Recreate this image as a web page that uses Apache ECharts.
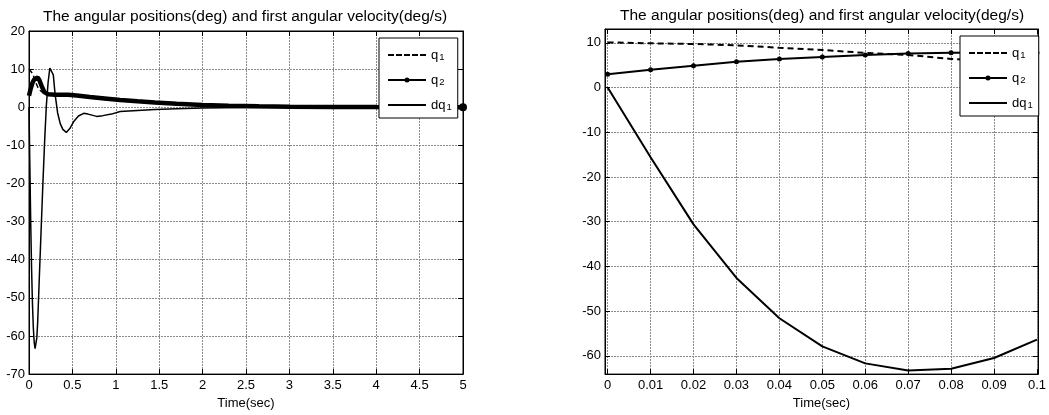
<!DOCTYPE html>
<html>
<head>
<meta charset="utf-8">
<script src="https://cdn.jsdelivr.net/npm/echarts@6/dist/echarts.min.js"></script>
<style>
  html, body { margin: 0; padding: 0; background: #fff; }
  #chart { width: 1049px; height: 415px; }
</style>
</head>
<body>
<div id="chart"></div>
<script>
// left panel: whole 5 s run, [time, value]
const q1Left = [[0, 10], [0.02, 9.75], [0.04, 8.9], [0.06, 7.75], [0.08, 6.4], [0.1, 5.3], [0.13, 4.4],
  [0.16, 3.8], [0.2, 3.3], [0.3, 3.1], [0.45, 3.05], [0.6, 2.7], [0.8, 2.2], [1.0, 1.8], [1.3, 1.3],
  [1.6, 0.9], [2.0, 0.5], [2.5, 0.25], [3.0, 0.1], [4.0, 0.02], [5, 0]];
const q2Left = [[0, 3], [0.02, 4.9], [0.04, 6.4], [0.06, 7.3], [0.08, 7.8], [0.1, 7.8], [0.12, 7.1],
  [0.15, 5.3], [0.18, 3.9], [0.22, 3.4], [0.3, 3.3], [0.45, 3.3], [0.55, 3.1], [0.7, 2.7], [0.9, 2.25],
  [1.05, 1.9], [1.25, 1.55], [1.45, 1.25], [1.7, 0.9], [2.0, 0.6], [2.3, 0.4], [2.65, 0.25], [3.0, 0.15],
  [3.5, 0.08], [4.0, 0.04], [4.5, 0.02], [5, 0]];
const dq1Left = [[0, 0], [0.01, -15.6], [0.02, -30.6], [0.03, -42.6], [0.04, -51.6], [0.05, -57.9],
  [0.06, -61.7], [0.07, -63.3], [0.08, -62.9], [0.09, -60.5], [0.1, -56.4], [0.12, -44], [0.14, -32],
  [0.16, -20], [0.18, -9], [0.2, 0.5], [0.22, 6.5], [0.24, 10.3], [0.26, 10.8], [0.28, 8.5], [0.3, 3.5],
  [0.33, -1.5], [0.36, -4.3], [0.39, -5.8], [0.43, -6.6], [0.47, -5.6], [0.52, -3.6], [0.57, -2.3],
  [0.63, -1.6], [0.68, -1.8], [0.78, -2.4], [0.85, -2.2], [0.95, -1.8], [1.05, -1.1], [1.2, -0.9],
  [1.45, -0.6], [1.7, -0.4], [2.0, -0.2], [2.5, -0.05], [3.0, 0], [5, 0]];

// right panel: first 0.1 s, one sample every 0.01 s
const timeRight = [0, 0.01, 0.02, 0.03, 0.04, 0.05, 0.06, 0.07, 0.08, 0.09, 0.1];
const q1Right = [10.1, 9.9, 9.75, 9.45, 8.9, 8.4, 7.75, 7.3, 6.4, 5.9, 5.3];
const q2Right = [3.0, 4.0, 4.9, 5.75, 6.4, 6.85, 7.3, 7.6, 7.8, 7.85, 7.8];
const dq1Right = [0, -15.6, -30.6, -42.6, -51.6, -57.9, -61.7, -63.3, -62.9, -60.5, -56.4];

const seriesNames = ['q1', 'q2', 'dq1'];
const titleText = 'The angular positions(deg) and first angular velocity(deg/s)';
const font = 'Liberation Sans, Arial, Helvetica, sans-serif';

const pairs = (xs, ys) => xs.map((x, i) => [x, ys[i]]);

const chart = echarts.init(document.getElementById('chart'));

const gridLine = { show: true, lineStyle: { color: '#8a8a8a', type: [2, 1], width: 1 } };
const tickIn = { show: true, inside: true, length: 5, lineStyle: { color: '#000' } };
const label = { color: '#000', fontSize: 13, fontFamily: font };
const axisLine = { show: true, onZero: false, lineStyle: { color: '#000', width: 1 } };

function xAx(grid, range, pos, main) {
  return Object.assign({
    type: 'value', gridIndex: grid, position: pos,
    axisLine: axisLine, axisTick: tickIn,
    splitLine: main ? gridLine : { show: false },
    axisLabel: main ? Object.assign({ margin: 5, showMinLabel: !range.hideEnds,
      showMaxLabel: !range.hideEnds }, label) : { show: false },
    name: main ? 'Time(sec)' : '', nameLocation: 'middle', nameGap: 21,
    nameTextStyle: label
  }, range.opt);
}

function yAx(grid, range, pos, main) {
  return Object.assign({
    type: 'value', gridIndex: grid, position: pos,
    axisLine: axisLine, axisTick: tickIn,
    splitLine: main ? gridLine : { show: false },
    axisLabel: main ? Object.assign({ margin: 4, showMinLabel: !range.hideEnds,
      showMaxLabel: !range.hideEnds }, label) : { show: false }
  }, range.opt);
}

const xLeft = { opt: { min: 0, max: 5, interval: 0.5 } };
const yLeft = { opt: { min: -70, max: 20, interval: 10 } };
const xRight = { hideEnds: true, opt: { min: -0.00062, max: 0.10023, splitNumber: 10 } };
const yRight = { hideEnds: true, opt: { min: -64.1, max: 13.1, splitNumber: 8 } };

// legend samples drawn as paths in a 38 wide box
const icons = {
  q1: 'path://M0,6h6v2h-6z M8,6h6v2h-6z M16,6h6v2h-6z M24,6h6v2h-6z M32,6h6v2h-6z',
  q2: 'path://M0,6h38v2h-38z M16.5,7a2.5,2.5 0 1,1 5,0a2.5,2.5 0 1,1 -5,0z',
  dq1: 'path://M0,6h38v2h-38z'
};

const legendRich = {
  b: { fontSize: 13, fontFamily: font, color: '#000', lineHeight: 14 },
  s: { fontSize: 9.5, fontFamily: font, color: '#000', verticalAlign: 'bottom', lineHeight: 14, padding: [8, 0, 0, 1] }
};
function legendAt(left, top) {
  return {
    orient: 'vertical', left: left, top: top,
    padding: [6, 6, 6, 9], itemWidth: 38, itemHeight: 14, itemGap: 7,
    backgroundColor: '#fff', borderColor: '#000', borderWidth: 1, borderRadius: 0,
    data: seriesNames.map(n => ({ name: n, icon: icons[n] })),
    itemStyle: { color: '#000', borderWidth: 0 },
    formatter: n => '{b|' + n.slice(0, -1) + '}{s|' + n.slice(-1) + '}',
    textStyle: { rich: legendRich }
  };
}

const titleStyle = { fontSize: 15.5, fontWeight: 'normal', color: '#000', fontFamily: font };

const option = {
  backgroundColor: '#fff',
  animation: false,
  title: [
    { text: titleText, left: 38, top: 4, textStyle: titleStyle },
    { text: titleText, left: 615, top: 3, textStyle: titleStyle }
  ],
  legend: [legendAt(379, 38), legendAt(960, 36)],
  grid: [
    { left: 29, top: 31, right: 586, bottom: 37, show: true, borderColor: '#000', borderWidth: 1 },
    { left: 605, top: 29, right: 4, bottom: 37, show: true, borderColor: '#000', borderWidth: 1 }
  ],
  xAxis: [
    xAx(0, xLeft, 'bottom', true), xAx(1, xRight, 'bottom', true),
    xAx(0, xLeft, 'top', false), xAx(1, xRight, 'top', false)
  ],
  yAxis: [
    yAx(0, yLeft, 'left', true), yAx(1, yRight, 'left', true),
    yAx(0, yLeft, 'right', false), yAx(1, yRight, 'right', false)
  ],
  series: [
    { name: 'q1', type: 'line', xAxisIndex: 0, yAxisIndex: 0, data: q1Left, symbol: 'none',
      lineStyle: { color: '#000', width: 1.5, type: [5, 3] }, itemStyle: { color: '#000' } },
    { name: 'q2', type: 'line', xAxisIndex: 0, yAxisIndex: 0,
      data: q2Left.map((p, i) => i === q2Left.length - 1 ? { value: p, symbolSize: 8 } : p),
      symbol: 'circle', symbolSize: 0, lineStyle: { color: '#000', width: 4.5 }, itemStyle: { color: '#000' } },
    { name: 'dq1', type: 'line', xAxisIndex: 0, yAxisIndex: 0, data: dq1Left, symbol: 'none',
      lineStyle: { color: '#000', width: 1.5 }, itemStyle: { color: '#000' } },

    { name: 'q1', type: 'line', xAxisIndex: 1, yAxisIndex: 1, data: pairs(timeRight, q1Right), symbol: 'none',
      lineStyle: { color: '#000', width: 2, type: [6, 4] }, itemStyle: { color: '#000' } },
    { name: 'q2', type: 'line', xAxisIndex: 1, yAxisIndex: 1, data: pairs(timeRight, q2Right),
      symbol: 'circle', symbolSize: 5, lineStyle: { color: '#000', width: 2 }, itemStyle: { color: '#000' } },
    { name: 'dq1', type: 'line', xAxisIndex: 1, yAxisIndex: 1, data: pairs(timeRight, dq1Right), symbol: 'none',
      lineStyle: { color: '#000', width: 2 }, itemStyle: { color: '#000' } }
  ]
};

chart.setOption(option);
</script>
</body>
</html>
